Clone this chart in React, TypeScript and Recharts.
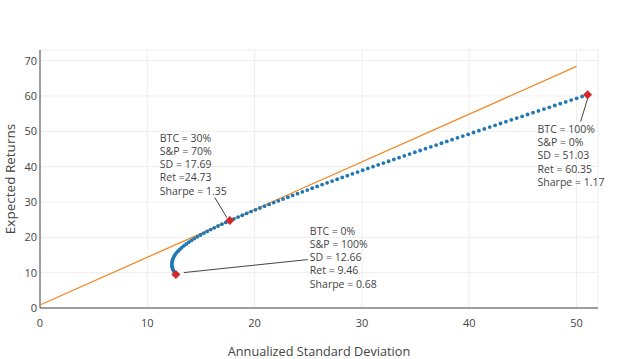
import {
  ScatterChart,
  Scatter,
  XAxis,
  YAxis,
  CartesianGrid,
  ReferenceDot,
} from "recharts";

// efficient frontier, BTC weight 0% -> 100% in 1% steps
const frontierSD = [
  12.66, 12.544, 12.449, 12.375, 12.324, 12.295, 12.288, 12.304, 12.342, 12.403,
  12.485, 12.588, 12.713, 12.858, 13.022, 13.206, 13.407, 13.627, 13.861, 14.112,
  14.378, 14.659, 14.951, 15.257, 15.575, 15.903, 16.242, 16.59, 16.948, 17.314,
  17.69, 18.071, 18.46, 18.856, 19.257, 19.665, 20.078, 20.497, 20.92, 21.347,
  21.779, 22.215, 22.655, 23.099, 23.545, 23.996, 24.449, 24.905, 25.364, 25.825,
  26.288, 26.754, 27.222, 27.692, 28.165, 28.639, 29.114, 29.592, 30.071, 30.552,
  31.034, 31.517, 32.002, 32.488, 32.975, 33.464, 33.953, 34.444, 34.936, 35.428,
  35.922, 36.417, 36.912, 37.408, 37.905, 38.402, 38.901, 39.4, 39.9, 40.401,
  40.902, 41.404, 41.906, 42.409, 42.913, 43.417, 43.921, 44.426, 44.932, 45.437,
  45.944, 46.451, 46.958, 47.466, 47.974, 48.482, 48.991, 49.5, 50.009, 50.519,
  51.03,
];
const frontierRet = [
  9.46, 9.97, 10.48, 10.99, 11.5, 12.0, 12.51, 13.02, 13.53, 14.04,
  14.55, 15.06, 15.57, 16.08, 16.58, 17.09, 17.6, 18.11, 18.62, 19.13,
  19.64, 20.15, 20.66, 21.16, 21.67, 22.18, 22.69, 23.2, 23.71, 24.22,
  24.73, 25.24, 25.74, 26.25, 26.76, 27.27, 27.78, 28.29, 28.8, 29.31,
  29.82, 30.32, 30.83, 31.34, 31.85, 32.36, 32.87, 33.38, 33.89, 34.4,
  34.91, 35.41, 35.92, 36.43, 36.94, 37.45, 37.96, 38.47, 38.98, 39.49,
  39.99, 40.5, 41.01, 41.52, 42.03, 42.54, 43.05, 43.56, 44.07, 44.57,
  45.08, 45.59, 46.1, 46.61, 47.12, 47.63, 48.14, 48.65, 49.15, 49.66,
  50.17, 50.68, 51.19, 51.7, 52.21, 52.72, 53.23, 53.73, 54.24, 54.75,
  55.26, 55.77, 56.28, 56.79, 57.3, 57.81, 58.31, 58.82, 59.33, 59.84,
  60.35,
];

// capital market line
const cmlSD = [0, 50];
const cmlRet = [0.85, 68.35];

// highlighted portfolios
const keySD = [12.66, 17.69, 51.03];
const keyRet = [9.46, 24.73, 60.35];
const keyLabels = [
  ["BTC = 0%", "S&P = 100%", "SD = 12.66", "Ret = 9.46", "Sharpe = 0.68"],
  ["BTC = 30%", "S&P = 70%", "SD = 17.69", "Ret =24.73", "Sharpe = 1.35"],
  ["BTC = 100%", "S&P = 0%", "SD = 51.03", "Ret = 60.35", "Sharpe = 1.17"],
];

const xTicks = [0, 10, 20, 30, 40, 50];
const yTicks = [0, 10, 20, 30, 40, 50, 60, 70];

// pixel offsets of annotation text and leader line from each point
const NOTE_LAYOUT = [
  { tx: 134, ty: -40, line: [8, -2, 132, -15] },
  { tx: -70, ty: -79, line: [-3, -3, -15, -23] },
  { tx: -50, ty: 38, line: [0, 4, -7, 27] },
];

const frontier = frontierSD.map((x, i) => ({ x, y: frontierRet[i] }));
const cml = cmlSD.map((x, i) => ({ x, y: cmlRet[i] }));
const keyPoints = keySD.map((x, i) => ({ x, y: keyRet[i] }));

const FONT = "'Open Sans', 'DejaVu Sans', sans-serif";
const TEXT = "#444";

const Dot = (p: any) => <circle cx={p.cx} cy={p.cy} r={1.9} fill="#1f77b4" />;
const Diamond = (p: any) => (
  <polygon
    points={`${p.cx},${p.cy - 4.5} ${p.cx + 4.5},${p.cy} ${p.cx},${p.cy + 4.5} ${p.cx - 4.5},${p.cy}`}
    fill="#d62728"
  />
);

function note(i: number) {
  const lay = NOTE_LAYOUT[i];
  return (p: any) => {
    const { cx, cy } = p;
    const [x1, y1, x2, y2] = lay.line;
    return (
      <g>
        <line
          x1={cx + x1}
          y1={cy + y1}
          x2={cx + x2}
          y2={cy + y2}
          stroke={TEXT}
          strokeWidth={1}
        />
        <text
          x={cx + lay.tx}
          y={cy + lay.ty}
          fontSize={10.5}
          fill={TEXT}
          fontFamily={FONT}
        >
          {keyLabels[i].map((t, k) => (
            <tspan key={k} x={cx + lay.tx} dy={k === 0 ? 0 : 13.3}>
              {t}
            </tspan>
          ))}
        </text>
      </g>
    );
  };
}

export default function App() {
  return (
    <div
      style={{
        position: "absolute",
        left: 0,
        top: 0,
        width: 638,
        height: 359,
        background: "#fff",
        fontFamily: FONT,
      }}
    >
      <ScatterChart
        width={638}
        height={359}
        margin={{ top: 50, right: 40, bottom: 0, left: 0 }}
      >
        <CartesianGrid stroke="#eee" />
        <XAxis
          type="number"
          dataKey="x"
          domain={[0, 52]}
          ticks={xTicks}
          height={51}
          axisLine={{ stroke: TEXT }}
          tickLine={false}
          tickSize={0}
          tickMargin={11}
          tick={{ fill: TEXT, fontSize: 11, fontFamily: FONT }}
          label={{
            value: "Annualized Standard Deviation",
            position: "insideBottom",
            offset: 3,
            fill: TEXT,
            fontSize: 12.7,
            fontFamily: FONT,
          }}
        />
        <YAxis
          type="number"
          dataKey="y"
          domain={[0, 73]}
          ticks={yTicks}
          width={40}
          axisLine={{ stroke: TEXT }}
          tickLine={false}
          tickSize={0}
          tickMargin={3}
          tick={{ fill: TEXT, fontSize: 11, fontFamily: FONT }}
          label={{
            value: "Expected Returns",
            angle: -90,
            position: "insideLeft",
            offset: 10,
            fill: TEXT,
            fontSize: 13.5,
            fontFamily: FONT,
            style: { textAnchor: "middle" },
          }}
        />
        <Scatter
          data={cml}
          line={{ stroke: "#f08a24", strokeWidth: 1.3 }}
          shape={() => <g />}
          isAnimationActive={false}
        />
        <Scatter data={frontier} shape={Dot} isAnimationActive={false} />
        <Scatter data={keyPoints} shape={Diamond} isAnimationActive={false} />
        {keyPoints.map((k, i) => (
          <ReferenceDot key={i} x={k.x} y={k.y} r={0} shape={note(i)} />
        ))}
      </ScatterChart>
    </div>
  );
}
